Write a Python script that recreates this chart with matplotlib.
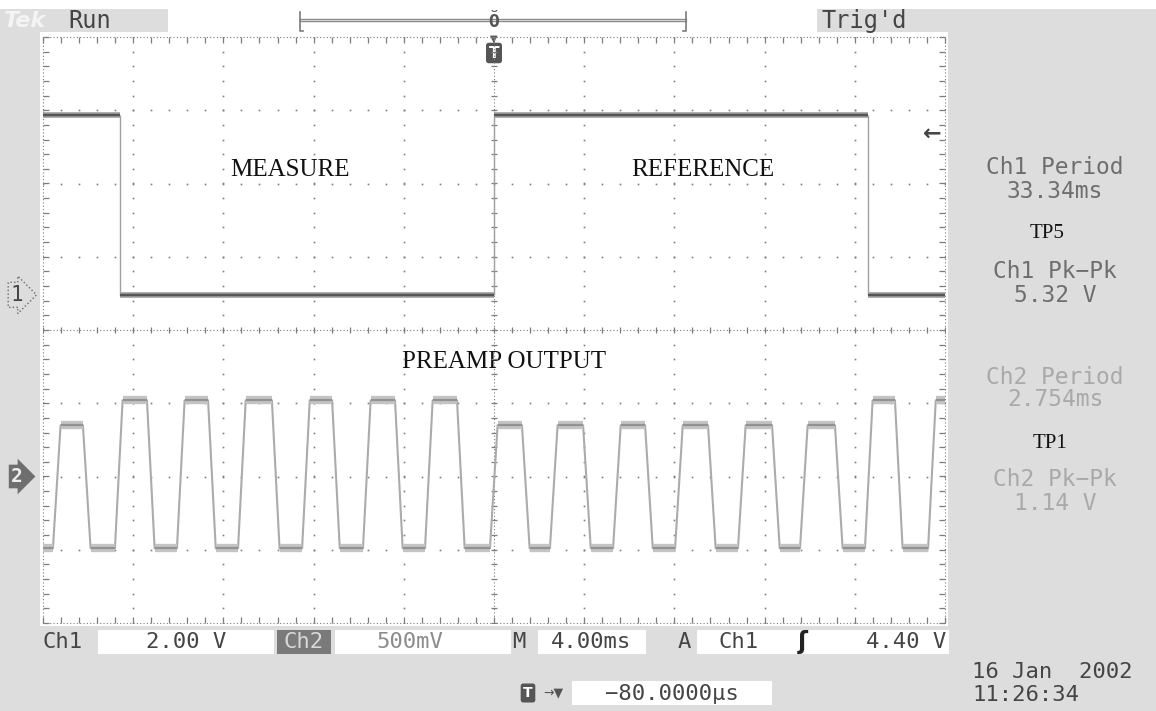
import numpy as np
import matplotlib
matplotlib.use('Agg')
import matplotlib.pyplot as plt
import matplotlib.transforms as mtransforms
from matplotlib.patches import Rectangle

# scope settings
time_per_div = 4.0          # ms/div, 10 div, trigger in the middle
ch1_volts_per_div = 2.00
ch2_volts_per_div = 0.500
ch1_position = 0.48         # div above screen centre
ch2_position = -2.0
trigger_level = 4.40        # V on Ch1

# Ch1 (TP5) square wave: edge times in ms, level in V between edges
ch1_edges = [-16.6, 0.0, 16.6]
ch1_levels = [4.91, 0.0, 4.91, 0.0]

# Ch2 (TP1) preamp output: rise/fall start times (ms), pulse tops (V)
ch2_rise = [-19.56, -16.81, -14.06, -11.35, -8.51, -5.81, -3.06, -0.18,
            2.48, 5.28, 8.03, 10.82, 13.57, 16.45, 19.25]
ch2_fall = [-18.23, -15.39, -12.68, -9.85, -7.18, -4.39, -1.64, 1.24,
            3.95, 6.70, 9.49, 12.33, 15.12, 17.78]
ch2_top = [0.35, 0.52, 0.52, 0.52, 0.52, 0.52, 0.52, 0.35,
           0.35, 0.35, 0.35, 0.35, 0.35, 0.52, 0.52]
ch2_low = -0.49
ch2_edge = 0.34             # ms for a transition

meas_labels = ['Ch1 Period', 'Ch1 Pk\u2212Pk', 'Ch2 Period', 'Ch2 Pk\u2212Pk']
meas_values = ['33.34ms', '5.32 V', '2.754ms', '1.14 V']

GRAY = '#dddddd'
DARK = '#454545'
GRID = '#7d7d7d'
MONO = 'DejaVu Sans Mono'
SERIF = 'Liberation Serif'


def ch1_div(v):
    return v / ch1_volts_per_div + ch1_position


def ch2_div(v):
    return v / ch2_volts_per_div + ch2_position


fig = plt.figure(figsize=(11.56, 7.11), dpi=100, facecolor=GRAY)

# background / panel layer in pixel coordinates
bg = fig.add_axes([0, 0, 1, 1])
bg.set_xlim(0, 1156)
bg.set_ylim(711, 0)
bg.axis('off')
bg.add_patch(Rectangle((0, 0), 1156, 9, fc='white', ec='none'))
bg.add_patch(Rectangle((168, 9), 649, 23, fc='white', ec='none'))
bg.add_patch(Rectangle((40, 32), 908, 594, fc='white', ec='none'))
for x0, w in ((98, 176), (335, 176), (538, 108), (697, 252)):
    bg.add_patch(Rectangle((x0, 630), w, 24, fc='white', ec='none'))
bg.add_patch(Rectangle((277, 630), 54, 24, fc='#7a7a7a', ec='none'))
bg.add_patch(Rectangle((572, 681), 200, 24, fc='white', ec='none'))

# top bar
bg.text(4, 21, 'Tek', fontsize=16, fontweight='bold', fontstyle='italic',
        color='#f4f4f4', va='center', family='DejaVu Sans')
bg.text(68, 21, 'Run', fontsize=17, color=DARK, va='center', family=MONO)
bg.text(822, 21, "Trig'd", fontsize=17, color=DARK, va='center', family=MONO)
bg.plot([300, 686], [19, 19], color='#8a8a8a', lw=1)
bg.plot([300, 686], [21, 21], color='#8a8a8a', lw=1)
bg.plot([300, 300, 303], [12, 31, 31], color='#7a7a7a', lw=1.2)
bg.plot([686, 686, 683], [12, 31, 31], color='#7a7a7a', lw=1.2)
bg.text(494, 22, '\u014e', fontsize=13, fontweight='bold', color='#555555',
        ha='center', va='center', family=MONO)
bg.text(494, 39, '\u25bc', fontsize=7, color='#555555', ha='center', va='center')
bg.text(494, 53, 'T', fontsize=11, fontweight='bold', color='white',
        ha='center', va='center', family='DejaVu Sans',
        bbox=dict(boxstyle='round,pad=0.18', fc='#555555', ec='none'))

# graticule
ax = fig.add_axes([43 / 1156, (711 - 623) / 711, 902 / 1156, 586 / 711])
ax.set_xlim(-5 * time_per_div, 5 * time_per_div)
ax.set_ylim(-4, 4)
ax.axis('off')

minor_x = np.arange(-20, 20.01, time_per_div / 5)
minor_y = np.arange(-4, 4.01, 0.2)
for gx in np.arange(-16, 17, time_per_div):
    if gx == 0:
        continue
    ax.plot(np.full_like(minor_y, gx), minor_y, ls='none', marker='s', ms=1.2,
            color=GRID, mew=0)
for gy in range(-3, 4):
    if gy == 0:
        continue
    ax.plot(minor_x, np.full_like(minor_x, gy), ls='none', marker='s', ms=1.2,
            color=GRID, mew=0)
# centre lines with ticks
ax.axhline(0, color=GRID, lw=0.8, ls=(0, (1, 2)))
ax.axvline(0, color=GRID, lw=0.8, ls=(0, (1, 2)))
ax.plot(minor_x, np.zeros_like(minor_x), ls='none', marker='|', ms=5,
        mew=0.9, color=GRID)
ax.plot(np.zeros_like(minor_y), minor_y, ls='none', marker='_', ms=5,
        mew=0.9, color=GRID)
# frame with inward ticks
for y, m in ((4, 3), (-4, 2)):
    ax.axhline(y, color=GRID, lw=0.8, ls=(0, (1, 2)), clip_on=False)
    ax.plot(minor_x, np.full_like(minor_x, y), ls='none', marker=m, ms=4,
            mew=0.9, color=GRID, clip_on=False)
for x, m in ((-20, 1), (20, 0)):
    ax.axvline(x, color=GRID, lw=0.8, ls=(0, (1, 2)), clip_on=False)
    ax.plot(np.full_like(minor_y, x), minor_y, ls='none', marker=m, ms=4,
            mew=0.9, color=GRID, clip_on=False)

# Ch1 trace
bounds = [-20.0] + ch1_edges + [20.0]
for i, lev in enumerate(ch1_levels):
    y = ch1_div(lev)
    ax.hlines(y, bounds[i], bounds[i + 1], color='#9a9a9a', lw=4, zorder=5)
    ax.hlines(y, bounds[i], bounds[i + 1], color='#555555', lw=1.6, zorder=6)
for i, t in enumerate(ch1_edges):
    ax.vlines(t, ch1_div(ch1_levels[i]), ch1_div(ch1_levels[i + 1]),
              color='#a0a0a0', lw=1, zorder=5)

# Ch2 trace
xs, ys = [-20.0], [ch2_low]
for i, r in enumerate(ch2_rise):
    xs += [r, r + ch2_edge]
    ys += [ch2_low, ch2_top[i]]
    if i < len(ch2_fall):
        xs += [ch2_fall[i], ch2_fall[i] + ch2_edge]
        ys += [ch2_top[i], ch2_low]
xs.append(20.0)
ys.append(ys[-1])
xs = np.array(xs)
ys = ch2_div(np.array(ys))
ax.plot(xs, ys, color='#ababab', lw=1.5, zorder=5)
for i in range(len(xs) - 1):
    if ys[i] == ys[i + 1]:
        ax.hlines(ys[i], xs[i], xs[i + 1], color='#c4c4c4', lw=6, zorder=5)
        ax.hlines(ys[i], xs[i], xs[i + 1], color='#929292', lw=1.6, zorder=6)

# trigger level arrow
ax.text(19.45, ch1_div(trigger_level), '\u2190', fontsize=16, color=DARK,
        ha='center', va='center', fontweight='bold', zorder=7)

# annotations
for s, x, y in (('MEASURE', 290, 170), ('REFERENCE', 703, 170),
                ('PREAMP OUTPUT', 504, 362)):
    bg.text(x, y, s, fontsize=18, family=SERIF, color='#111111',
            ha='center', va='center', zorder=8)

# channel ground markers
mark = mtransforms.blended_transform_factory(bg.transData, ax.transData)
ax.text(17, ch1_div(0.0), '1', transform=mark, fontsize=15, color=DARK,
        ha='center', va='center', family=MONO, clip_on=False,
        bbox=dict(boxstyle='rarrow,pad=0.12', fc=GRAY, ec='#6a6a6a',
                  lw=1, ls=':'))
ax.text(17, ch2_div(0.0), '2', transform=mark, fontsize=14, color='#eeeeee',
        fontweight='bold', ha='center', va='center', family=MONO,
        clip_on=False,
        bbox=dict(boxstyle='rarrow,pad=0.12', fc='#6e6e6e', ec='none'))

# right measurement panel
meas_y = [168, 272, 377, 480]
meas_c = ['#6e6e6e', '#6e6e6e', '#a9a9a9', '#a9a9a9']
for lab, val, y, c in zip(meas_labels, meas_values, meas_y, meas_c):
    bg.text(1055, y, lab, fontsize=16.5, color=c, ha='center', va='center',
            family=MONO)
    bg.text(1055, y + 23, val, fontsize=16.5, color=c, ha='center',
            va='center', family=MONO)
bg.text(1047, 233, 'TP5', fontsize=15, family=SERIF, color='#111111',
        ha='center', va='center')
bg.text(1050, 443, 'TP1', fontsize=15, family=SERIF, color='#111111',
        ha='center', va='center')

# bottom status row
row = 642
bg.text(42, row, 'Ch1', fontsize=16, color=DARK, va='center', family=MONO)
bg.text(186, row, '2.00 V', fontsize=16, color=DARK, va='center',
        ha='center', family=MONO)
bg.text(304, row, 'Ch2', fontsize=16, color='#d8d8d8', va='center',
        ha='center', family=MONO)
bg.text(410, row, '500mV', fontsize=16, color='#8c8c8c', va='center',
        ha='center', family=MONO)
bg.text(512, row, 'M', fontsize=16, color=DARK, va='center', family=MONO)
bg.text(591, row, '4.00ms', fontsize=16, color=DARK, va='center',
        ha='center', family=MONO)
bg.text(684, row, 'A', fontsize=16, color=DARK, va='center', ha='center',
        family=MONO)
bg.text(719, row, 'Ch1', fontsize=16, color=DARK, va='center', family=MONO)
bg.text(803, row, '\u0283', fontsize=17, fontweight='bold', color='#222222',
        va='center', ha='center', family='DejaVu Sans')
bg.text(946, row, '4.40 V', fontsize=16, color=DARK, va='center', ha='right',
        family=MONO)

bg.text(528, 693, 'T', fontsize=10, fontweight='bold', color='white',
        ha='center', va='center', family='DejaVu Sans',
        bbox=dict(boxstyle='round,pad=0.18', fc='#555555', ec='none'))
bg.text(553, 693, '\u2192\u25bc', fontsize=9, color='#555555', ha='center',
        va='center', family='DejaVu Sans')
bg.text(672, 694, '\u221280.0000\u00b5s', fontsize=16, color=DARK,
        ha='center', va='center', family=MONO)
bg.text(972, 672, '16 Jan  2002', fontsize=16, color=DARK, va='center',
        family=MONO)
bg.text(972, 695, '11:26:34', fontsize=16, color=DARK, va='center',
        family=MONO)

fig.savefig('out.png', dpi=100, facecolor=GRAY)
